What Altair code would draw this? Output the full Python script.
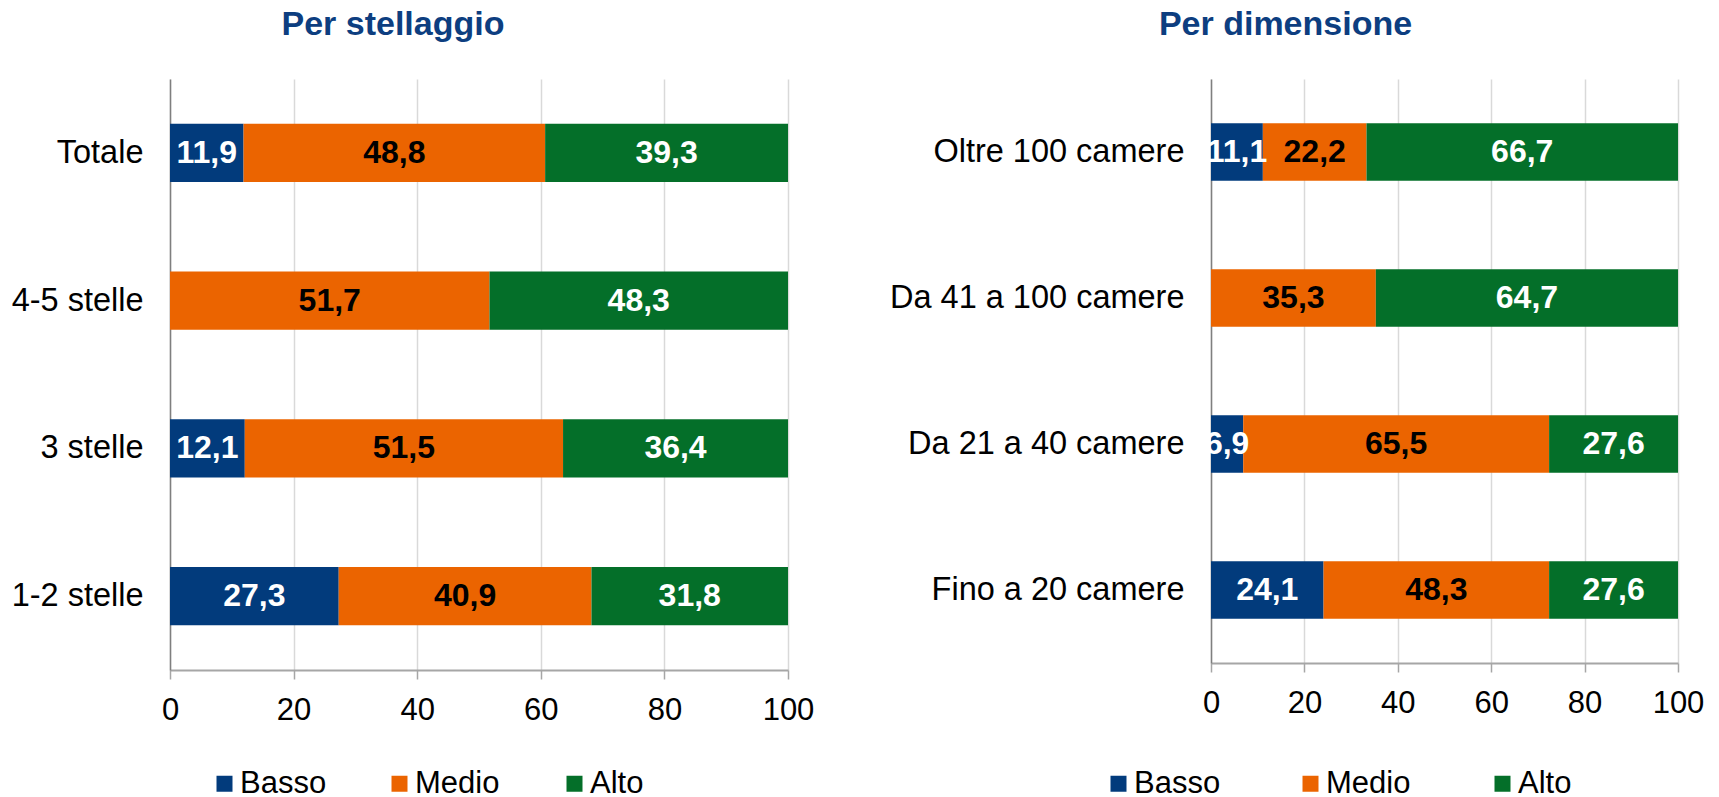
import altair as alt
import pandas as pd

levels = ["Basso", "Medio", "Alto"]
bar_colors = ["#023B7C", "#EB6400", "#046F29"]

cat_stelle = ["Totale", "4-5 stelle", "3 stelle", "1-2 stelle"]
basso_stelle = [11.9, 0.0, 12.1, 27.3]
medio_stelle = [48.8, 51.7, 51.5, 40.9]
alto_stelle = [39.3, 48.3, 36.4, 31.8]

cat_dim = ["Oltre 100 camere", "Da 41 a 100 camere", "Da 21 a 40 camere", "Fino a 20 camere"]
basso_dim = [11.1, 0.0, 6.9, 24.1]
medio_dim = [22.2, 35.3, 65.5, 48.3]
alto_dim = [66.7, 64.7, 27.6, 27.6]

x_ticks = [0, 20, 40, 60, 80, 100]

FONT = "Liberation Sans"


def to_long(cats, b, m, a):
    rows = []
    for i, c in enumerate(cats):
        for j, (lvl, v) in enumerate(zip(levels, [b[i], m[i], a[i]])):
            rows.append({"cat": c, "level": lvl, "order": j, "value": v})
    return pd.DataFrame(rows)


def panel(df, cats, title, title_dx, width, height, extent, legend_x, legend_y, col_pad):
    base = alt.Chart(df).transform_stack(
        stack="value", as_=["x0", "x1"], groupby=["cat"], sort=[alt.SortField("order")]
    )
    y = alt.Y(
        "cat:N", sort=cats, title=None,
        scale=alt.Scale(paddingInner=0.607, paddingOuter=0.3035),
        axis=alt.Axis(labelFontSize=32.5, labelFont=FONT, labelColor="black", labelPadding=27,
                      labelLimit=0, ticks=False, domainColor="#7F7F7F", domainWidth=1.5,
                      minExtent=extent, maxExtent=extent, grid=False),
    )
    x = alt.X(
        "x0:Q", title=None, scale=alt.Scale(domain=[0, 100], nice=False),
        axis=alt.Axis(values=x_ticks, grid=True, gridColor="#D9D9D9", gridWidth=1.5,
                      domainColor="#A6A6A6", domainWidth=2, tickColor="#A6A6A6",
                      tickSize=9, tickWidth=1.5, labelFontSize=31, labelFont=FONT,
                      labelColor="black", labelPadding=16, labelFlush=False),
    )
    bars = base.mark_bar().encode(
        y=y, x=x, x2="x1:Q",
        color=alt.Color(
            "level:N", scale=alt.Scale(domain=levels, range=bar_colors),
            legend=alt.Legend(orient="none", legendX=legend_x, legendY=legend_y,
                              direction="horizontal", columns=3, title=None,
                              symbolType="square", symbolSize=256, symbolStrokeWidth=0,
                              labelFontSize=31, labelFont=FONT, labelColor="black",
                              labelOffset=0, columnPadding=col_pad, padding=0,
                              gridAlign="all"),
        ),
    )
    text = base.transform_filter("datum.value > 0").transform_calculate(
        mid="(datum.x0 + datum.x1) / 2",
        label="replace(format(datum.value, '.1f'), '.', ',')",
    ).mark_text(fontSize=32, fontWeight="bold", font=FONT, align="center", baseline="middle").encode(
        y=alt.Y("cat:N", sort=cats),
        x=alt.X("mid:Q"),
        text="label:N",
        color=alt.condition("datum.level == 'Medio'", alt.value("black"), alt.value("white")),
    )
    return alt.layer(bars, text).properties(
        width=width, height=height,
        title=alt.TitleParams(title, font=FONT, fontSize=34, fontWeight="bold", color="#0D3E80",
                              anchor="middle", frame="group", dx=title_dx, offset=10,
                              baseline="alphabetic"),
    )


left = panel(to_long(cat_stelle, basso_stelle, medio_stelle, alto_stelle), cat_stelle,
             "Per stellaggio", -86, 618, 591, 162, 39, 689, 57)
right = panel(to_long(cat_dim, basso_dim, medio_dim, alto_dim), cat_dim,
              "Per dimensione", -159, 467, 584, 170, -108, 689, 74)

chart = alt.hconcat(left, right, spacing=423, bounds="flush").resolve_scale(
    color="independent", x="independent", y="independent"
).resolve_legend(color="independent").properties(
    padding={"left": 0, "top": 0, "right": 0, "bottom": 0}
).configure_view(strokeWidth=0)

chart.save("out.html", embed_options={"renderer": "svg", "actions": False})
